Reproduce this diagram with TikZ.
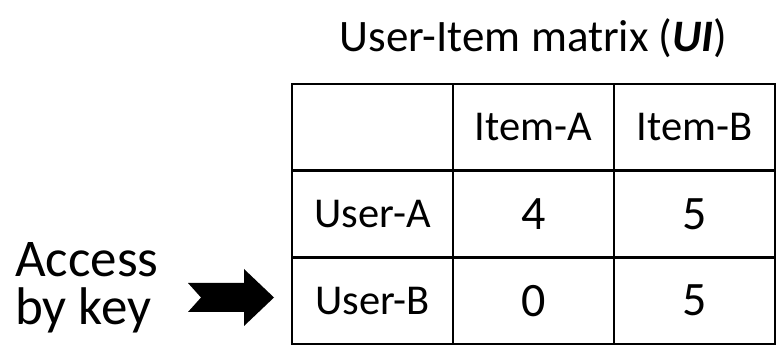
\documentclass[tikz,border=0pt]{standalone}
\usepackage{fontspec}
\setmainfont{Carlito}
\usepackage{tikz}

\begin{document}
\begin{tikzpicture}[x=1pt, y=-1pt,
  cell/.style={draw, line width=2.5pt, minimum width=161pt, minimum height=86.7pt,
    inner sep=0pt, font=\fontsize{42.5}{50}\selectfont},
  num/.style={cell, font=\fontsize{48}{56}\selectfont}]

\useasboundingbox (0,0) rectangle (777,347);

% Title of the matrix
\node[font=\fontsize{45}{52}\selectfont] (title) at (533.5,38) {User-Item matrix (\textbf{\textit{UI}})};

% Draw the table, one cell per node
\node[cell] (corner) at (372.5,127.35) {};
\node[cell] (itemA) at (533.5,127.35) {Item-A};
\node[cell] (itemB) at (694.5,127.35) {Item-B};
\node[cell] (userA) at (372.5,214.05) {User-A};
\node[num] (aa) at (533.5,214.05) {4};
\node[num] (ab) at (694.5,214.05) {5};
\node[cell] (userB) at (372.5,300.75) {User-B};
\node[num] (ba) at (533.5,300.75) {0};
\node[num] (bb) at (694.5,300.75) {5};

% the key access on the left
\node[anchor=base west, align=left, inner sep=0pt, font=\fontsize{53}{48}\selectfont] (access) at (15,325) {Access\\by key};
\fill (201,297.5) -- (188,283) -- (244,283) -- (244,269) -- (274,297.5)
  -- (244,326) -- (244,312) -- (188,312) -- cycle;
\end{tikzpicture}
\end{document}
